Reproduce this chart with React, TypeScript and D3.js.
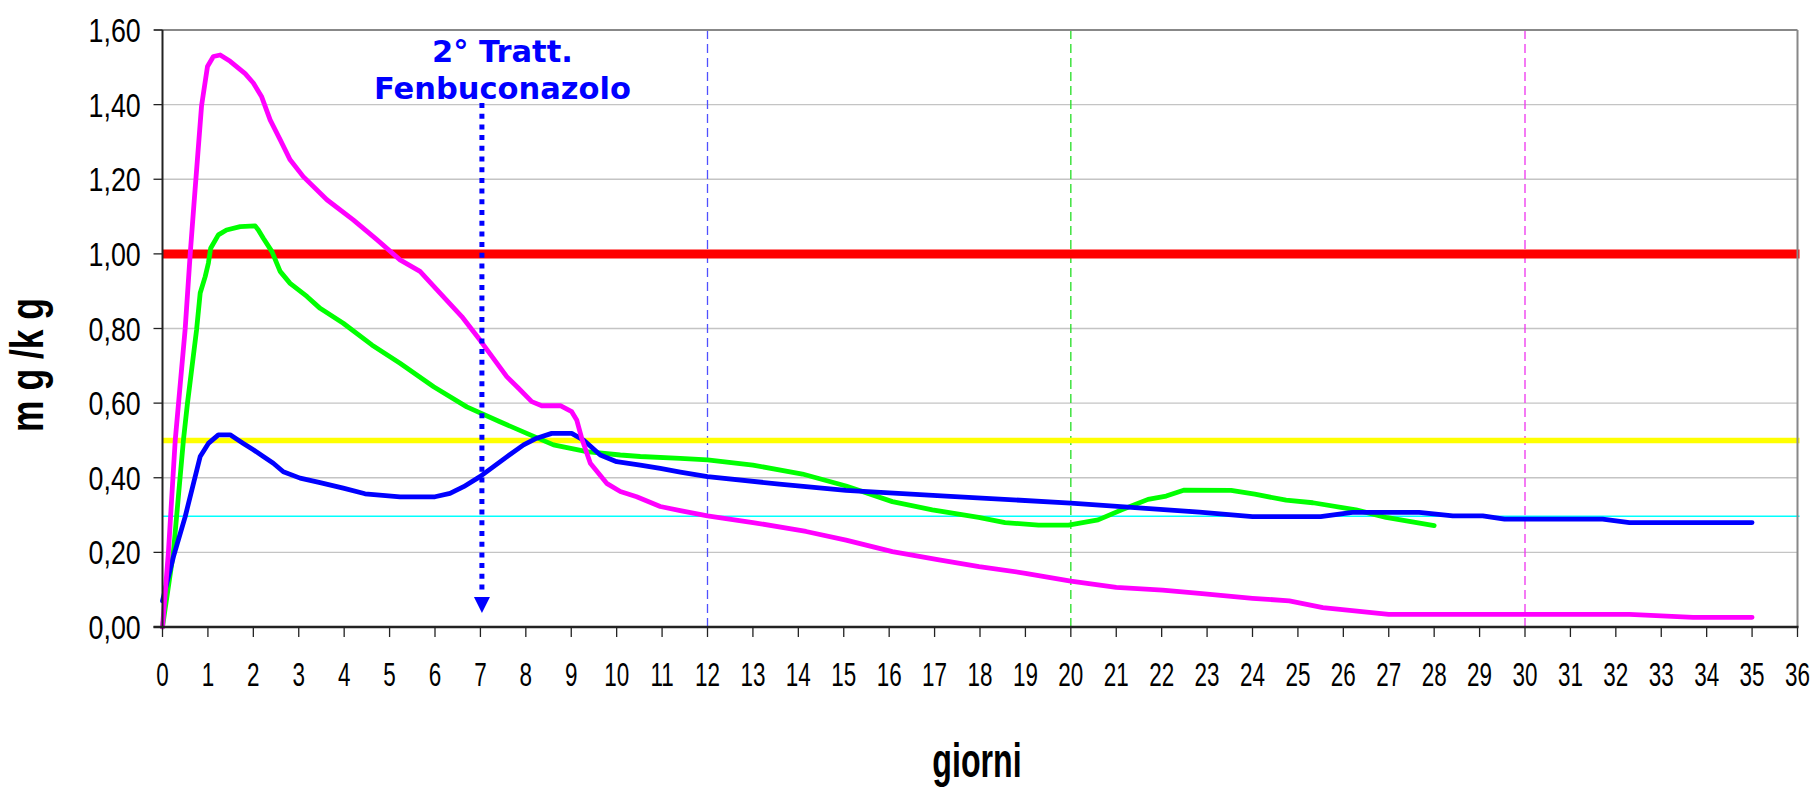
import React from 'react';
import * as d3 from 'd3';

// ---- data (days, mg/kg) ----
const magentaDays = [0, 0.13, 0.28, 0.5, 0.61, 0.7, 0.86, 0.99, 1.12, 1.27, 1.49, 1.82, 2.0, 2.18, 2.37, 2.59, 2.81, 3.1, 3.62, 4.2, 4.72, 5.23, 5.67, 6.04, 6.59, 6.99, 7.58, 7.84, 8.13, 8.35, 8.76, 9.01, 9.12, 9.23, 9.42, 9.78, 10.08, 10.44, 10.96, 11.4, 12, 13, 14.17, 15.05, 16.07, 17.1, 17.98, 19.0, 20.0, 21.0, 22.02, 22.83, 24.0, 24.81, 25.55, 27.0, 32.3, 33.7, 35];
const magentaValues = [0, 0.2, 0.5, 0.8, 1.0, 1.145, 1.397, 1.502, 1.529, 1.533, 1.516, 1.483, 1.458, 1.422, 1.359, 1.306, 1.252, 1.207, 1.145, 1.091, 1.038, 0.984, 0.953, 0.904, 0.832, 0.769, 0.671, 0.64, 0.604, 0.593, 0.593, 0.577, 0.555, 0.506, 0.439, 0.385, 0.363, 0.349, 0.323, 0.312, 0.298, 0.28, 0.256, 0.233, 0.202, 0.18, 0.162, 0.144, 0.123, 0.106, 0.099, 0.09, 0.077, 0.07, 0.052, 0.034, 0.034, 0.026, 0.026];

const greenDays = [0, 0.24, 0.46, 0.55, 0.75, 0.83, 0.94, 1.01, 1.06, 1.23, 1.41, 1.71, 2.04, 2.11, 2.22, 2.41, 2.59, 2.81, 3.18, 3.47, 3.98, 4.61, 5.23, 5.97, 6.7, 7.43, 8.02, 8.61, 9.34, 10.08, 10.52, 11.4, 12, 13, 14.09, 15.05, 16.07, 16.95, 17.97, 18.55, 19.29, 19.95, 20.6, 21.12, 21.7, 22.1, 22.5, 23.53, 24.05, 24.74, 25.33, 26.28, 26.94, 28.0];
const greenValues = [0, 0.2, 0.5, 0.6, 0.796, 0.895, 0.939, 0.975, 1.015, 1.051, 1.064, 1.073, 1.075, 1.064, 1.042, 1.006, 0.953, 0.921, 0.886, 0.854, 0.814, 0.756, 0.707, 0.644, 0.59, 0.55, 0.519, 0.488, 0.47, 0.461, 0.457, 0.452, 0.448, 0.434, 0.41, 0.378, 0.336, 0.314, 0.294, 0.28, 0.273, 0.273, 0.287, 0.314, 0.342, 0.351, 0.367, 0.366, 0.356, 0.34, 0.333, 0.314, 0.294, 0.272];

const blueDays = [0, 0.1, 0.24, 0.5, 0.83, 1.01, 1.23, 1.49, 1.78, 2.0, 2.22, 2.44, 2.66, 3.03, 3.47, 3.98, 4.46, 5.23, 6.0, 6.33, 6.63, 6.99, 7.58, 7.95, 8.24, 8.57, 9.01, 9.27, 9.64, 10.0, 10.52, 10.96, 11.4, 12, 13.58, 15.05, 17.25, 20.0, 21.65, 22.83, 24.0, 25.5, 26.2, 27.67, 28.41, 29.07, 29.55, 31.71, 32.3, 35];
const blueValues = [0.07, 0.12, 0.188, 0.296, 0.457, 0.492, 0.515, 0.515, 0.492, 0.475, 0.457, 0.439, 0.416, 0.399, 0.387, 0.372, 0.357, 0.349, 0.349, 0.358, 0.376, 0.403, 0.456, 0.488, 0.506, 0.519, 0.519, 0.501, 0.461, 0.443, 0.434, 0.425, 0.415, 0.403, 0.383, 0.366, 0.351, 0.332, 0.318, 0.308, 0.296, 0.296, 0.307, 0.307, 0.298, 0.298, 0.289, 0.289, 0.28, 0.28];

const limitValues = [0.297, 0.5, 1.0]; // cyan, yellow, red reference levels
const markerDays = [12, 20, 30];
const treatmentDay = 7;
const annotationLines = ['2° Tratt.', 'Fenbuconazolo'];
const yTicks = [0, 0.2, 0.4, 0.6, 0.8, 1.0, 1.2, 1.4, 1.6];
const xTicks = [0, 1, 2, 3, 4, 5, 6, 7, 8, 9, 10, 11, 12, 13, 14, 15, 16, 17, 18, 19, 20, 21, 22, 23, 24, 25, 26, 27, 28, 29, 30, 31, 32, 33, 34, 35, 36];
const yTitle = 'm g /k g';
const xTitle = 'giorni';

const W = 1814;
const H = 788;

export default function App() {
  const x = d3.scaleLinear().domain([0, 36]).range([162.5, 1797.5]);
  const y = d3.scaleLinear().domain([0, 1.6]).range([627, 30]);
  const line = d3
    .line<[number, number]>()
    .x((d) => x(d[0]))
    .y((d) => y(d[1]))
    .curve(d3.curveLinear);

  const zip = (a: number[], b: number[]) => a.map((v, i) => [v, b[i]] as [number, number]);
  const fmt = (v: number) => d3.format('.2f')(v).replace('.', ',');

  const limitStyles = [
    { stroke: '#00ffff', w: 1.6 },
    { stroke: '#ffff00', w: 5.5 },
    { stroke: '#ff0000', w: 9 },
  ];
  const markerColors = ['#5050ff', '#22dd22', '#ee33ee'];
  const series = [
    { d: zip(greenDays, greenValues), c: '#00ff00' },
    { d: zip(blueDays, blueValues), c: '#0000ff' },
    { d: zip(magentaDays, magentaValues), c: '#ff00ff' },
  ];

  const left = x(0);
  const right = x(36);
  const top = y(1.6);
  const bottom = y(0);
  const ax = x(treatmentDay) + 1.5;
  const sans = '"Liberation Sans", Arial, sans-serif';

  return (
    <svg
      width={W}
      height={H}
      style={{ position: 'absolute', left: 0, top: 0, background: '#fff' }}
    >
      <rect x={0} y={0} width={W} height={H} fill="#fff" />
      {/* gridlines */}
      {yTicks.slice(1, -1).map((t) => (
        <line key={'g' + t} x1={left} x2={right} y1={y(t)} y2={y(t)} stroke="#c4c4c4" strokeWidth={1.4} />
      ))}
      {/* vertical markers */}
      {markerDays.map((d, i) => (
        <line
          key={'m' + d}
          x1={x(d)}
          x2={x(d)}
          y1={top}
          y2={bottom}
          stroke={markerColors[i]}
          strokeWidth={1.3}
          strokeDasharray="9 5"
        />
      ))}
      {/* reference levels */}
      {limitValues.map((v, i) => (
        <line
          key={'l' + v}
          x1={left}
          x2={right + 2}
          y1={y(v)}
          y2={y(v)}
          stroke={limitStyles[i].stroke}
          strokeWidth={limitStyles[i].w}
        />
      ))}
      {/* series */}
      {series.map((s, i) => (
        <path
          key={'s' + i}
          d={line(s.d) || ''}
          fill="none"
          stroke={s.c}
          strokeWidth={4.8}
          strokeLinejoin="round"
          strokeLinecap="round"
        />
      ))}
      {/* plot border */}
      <line x1={154} x2={right} y1={top} y2={top} stroke="#888" strokeWidth={2} />
      <line x1={right} x2={right} y1={top} y2={bottom} stroke="#888" strokeWidth={2} />
      {/* axes */}
      <line x1={left} x2={left} y1={top} y2={bottom} stroke="#222" strokeWidth={2} />
      <line x1={left - 9} x2={right + 1} y1={bottom} y2={bottom} stroke="#222" strokeWidth={2.5} />
      {yTicks.map((t) => (
        <g key={'yt' + t}>
          <line x1={left - 9} x2={left} y1={y(t)} y2={y(t)} stroke="#222" strokeWidth={1.3} />
          <g transform={`translate(140.7, ${y(t) + 12}) scale(0.8, 1)`}>
            <text x={0} y={0} textAnchor="end" fontFamily={sans} fontSize={33.5} fill="#000">
              {fmt(t)}
            </text>
          </g>
        </g>
      ))}
      {xTicks.map((t) => (
        <g key={'xt' + t}>
          <line x1={x(t)} x2={x(t)} y1={bottom} y2={bottom + 10} stroke="#222" strokeWidth={1.3} />
          <g transform={`translate(${x(t)}, 686) scale(0.66, 1)`}>
            <text x={0} y={0} textAnchor="middle" fontFamily={sans} fontSize={34} fill="#000">
              {t}
            </text>
          </g>
        </g>
      ))}
      {/* axis titles */}
      <g transform="translate(43, 365) rotate(-90) scale(0.77, 1)">
        <text x={0} y={0} textAnchor="middle" fontFamily={sans} fontWeight="bold" fontSize={46} fill="#000">
          {yTitle}
        </text>
      </g>
      <g transform="translate(977, 776.7) scale(0.67, 1)">
        <text x={0} y={0} textAnchor="middle" fontFamily={sans} fontWeight="bold" fontSize={48} fill="#000">
          {xTitle}
        </text>
      </g>
      {/* treatment arrow */}
      <line x1={ax} x2={ax} y1={103} y2={591} stroke="#0000ff" strokeWidth={5} strokeDasharray="5 5.7" />
      <polygon points={`${ax - 8},597 ${ax + 8},597 ${ax},613`} fill="#0000ff" />
      {annotationLines.map((s, i) => (
        <text
          key={'a' + i}
          x={x(treatmentDay) + 22}
          y={61.7 + i * 37.6}
          textAnchor="middle"
          fontFamily='"DejaVu Sans", Verdana, sans-serif'
          fontWeight="bold"
          fontSize={30.5}
          fill="#0000ff"
        >
          {s}
        </text>
      ))}
    </svg>
  );
}
